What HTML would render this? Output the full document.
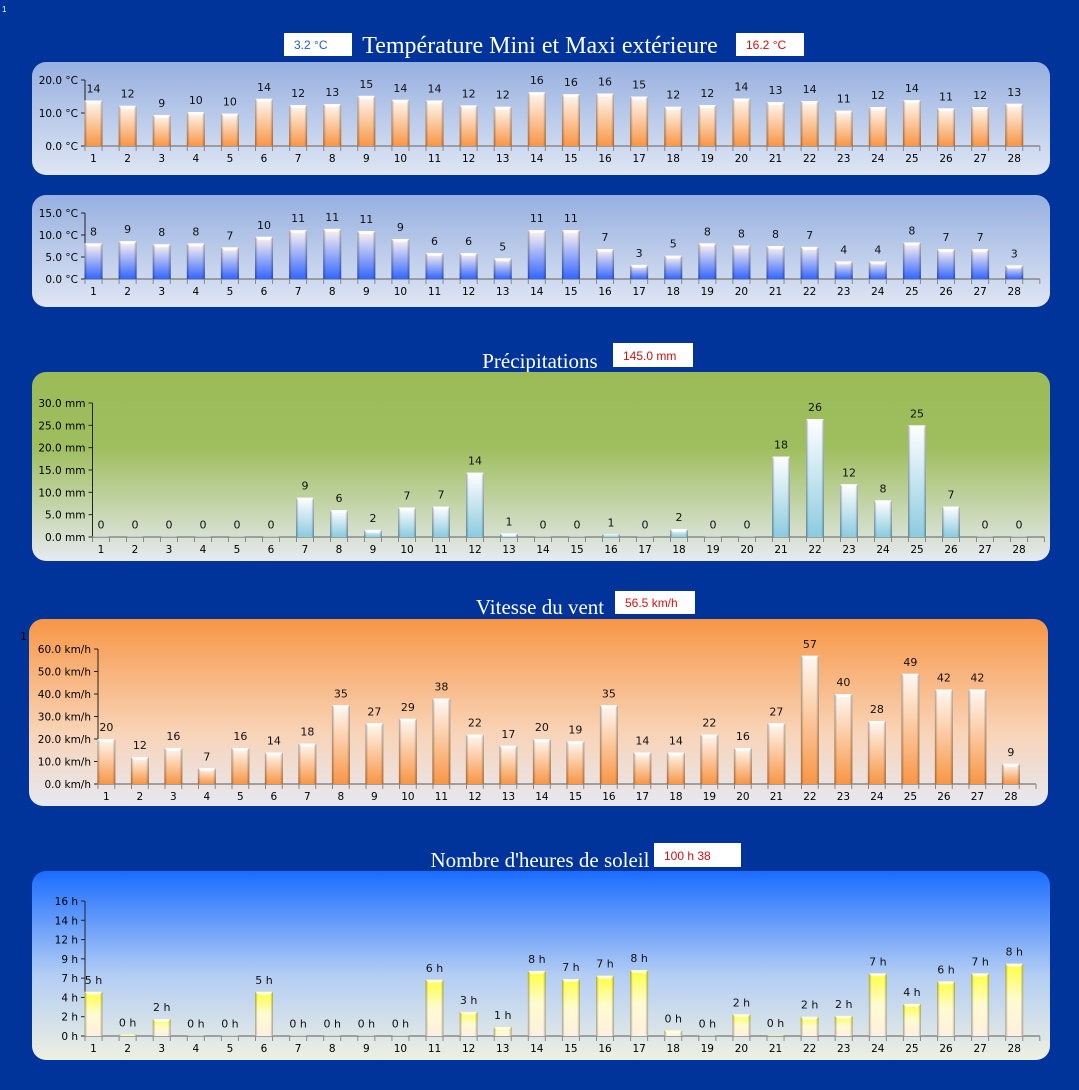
<!DOCTYPE html>
<html><head><meta charset="utf-8">
<style>
html,body{margin:0;padding:0;background:#00349a;}
svg{display:block;}
.t{font-family:"Liberation Serif",serif;font-size:21px;fill:#fff;}
.ax{font-family:"DejaVu Sans","Liberation Sans",sans-serif;font-size:10.5px;fill:#000;}
.vl{font-family:"DejaVu Sans","Liberation Sans",sans-serif;font-size:11px;fill:#111;}
.bx{font-family:"Liberation Sans",sans-serif;font-size:12px;}
</style></head>
<body>
<svg id="s" width="1079" height="1090" viewBox="0 0 1079 1090" xmlns="http://www.w3.org/2000/svg">
<defs>
<linearGradient id="pTemp" x1="0" y1="0" x2="0" y2="1"><stop offset="0" stop-color="#97b0e0"/><stop offset="1" stop-color="#dfe6f4"/></linearGradient>
<linearGradient id="pRain" x1="0" y1="0" x2="0" y2="1"><stop offset="0" stop-color="#9bbb59"/><stop offset="0.4" stop-color="#9fbe5e"/><stop offset="1" stop-color="#e6eaf1"/></linearGradient>
<linearGradient id="pWind" x1="0" y1="0" x2="0" y2="1"><stop offset="0" stop-color="#f79646"/><stop offset="0.6" stop-color="#f9d3b6"/><stop offset="1" stop-color="#e6e8f2"/></linearGradient>
<linearGradient id="pSun" x1="0" y1="0" x2="0" y2="1"><stop offset="0" stop-color="#1a6cff"/><stop offset="0.55" stop-color="#b3cdf4"/><stop offset="1" stop-color="#eef0e2"/></linearGradient>
<linearGradient id="bOrange" x1="0" y1="0" x2="0" y2="1"><stop offset="0" stop-color="#fff8f2"/><stop offset="1" stop-color="#f79646"/></linearGradient>
<linearGradient id="bBlue" x1="0" y1="0" x2="0" y2="1"><stop offset="0" stop-color="#fff4f0"/><stop offset="1" stop-color="#3366ff"/></linearGradient>
<linearGradient id="bCyan" x1="0" y1="0" x2="0" y2="1"><stop offset="0" stop-color="#ffffff"/><stop offset="1" stop-color="#8ccbe0"/></linearGradient>
<linearGradient id="bYellow" x1="0" y1="0" x2="0" y2="1"><stop offset="0" stop-color="#ffff40"/><stop offset="0.5" stop-color="#fffbd0"/><stop offset="1" stop-color="#fff0e0"/></linearGradient>
<linearGradient id="side" x1="0" y1="0" x2="1" y2="0"><stop offset="0" stop-color="#000" stop-opacity="0.35"/><stop offset="0.15" stop-color="#000" stop-opacity="0"/><stop offset="0.85" stop-color="#000" stop-opacity="0"/><stop offset="1" stop-color="#000" stop-opacity="0.35"/></linearGradient>
</defs>
<text x="2" y="12" font-size="8" fill="#fff" font-family="Liberation Sans">1</text>

<text class="t" x="540" y="53" text-anchor="middle" style="font-size:24px">Température Mini et Maxi extérieure</text>
<rect x="284" y="33" width="68" height="23" fill="#fff"/>
<text class="bx" x="294" y="49" fill="#1f5fd0">3.2 °C</text>
<rect x="736" y="33" width="68" height="23" fill="#fff"/>
<text class="bx" x="746" y="49" fill="#d01010">16.2 °C</text>
<rect x="32" y="62" width="1018" height="113" rx="14" fill="url(#pTemp)"/>
<rect x="32" y="195" width="1018" height="112" rx="14" fill="url(#pTemp)"/>

<text class="t" x="540" y="368" text-anchor="middle">Précipitations</text>
<rect x="613" y="343" width="80" height="24" fill="#fff"/>
<text class="bx" x="623" y="360" fill="#d01010">145.0 mm</text>
<rect x="32" y="372" width="1018" height="189" rx="14" fill="url(#pRain)"/>

<text class="t" x="540" y="614" text-anchor="middle">Vitesse du vent</text>
<rect x="615" y="591" width="80" height="23" fill="#fff"/>
<text class="bx" x="625" y="607" fill="#d01010">56.5 km/h</text>
<rect x="29" y="619" width="1019" height="187" rx="14" fill="url(#pWind)"/>
<text x="20" y="640" font-size="11" fill="#000" font-family="DejaVu Sans">1</text>

<text class="t" x="540" y="867" text-anchor="middle">Nombre d'heures de soleil</text>
<rect x="654" y="843" width="87" height="24" fill="#fff"/>
<text class="bx" x="664" y="860" fill="#d01010">100 h 38</text>
<rect x="32" y="871" width="1018" height="189" rx="14" fill="url(#pSun)"/>
<g id="charts"></g>
</svg>
<script>
const days = [1,2,3,4,5,6,7,8,9,10,11,12,13,14,15,16,17,18,19,20,21,22,23,24,25,26,27,28];
const maxTemp = [13.8,12.2,9.4,10.3,9.8,14.3,12.4,12.7,15.2,14,13.8,12.3,11.9,16.3,15.7,15.9,15,11.9,12.4,14.4,13.3,13.6,10.7,11.8,13.9,11.4,11.8,12.8];
const maxTicks = [0,10,20];
const maxTickLabels = ["0.0 °C","10.0 °C","20.0 °C"];
const minTemp = [8.1,8.6,7.9,8.1,7.2,9.6,11.1,11.4,10.9,9.1,5.9,5.9,4.7,11.1,11.1,6.8,3.2,5.3,8.1,7.6,7.5,7.3,4,4,8.3,6.8,6.8,3.1];
const minTicks = [0,5,10,15];
const minTickLabels = ["0.0 °C","5.0 °C","10.0 °C","15.0 °C"];
const rain = [0,0,0,0,0,0,8.8,6,1.6,6.6,6.8,14.4,0.8,0,0,0.6,0,1.8,0,0,18,26.4,11.8,8.2,25,6.8,0,0];
const rainTicks = [0,5,10,15,20,25,30];
const rainTickLabels = ["0.0 mm","5.0 mm","10.0 mm","15.0 mm","20.0 mm","25.0 mm","30.0 mm"];
const wind = [20,12,16,7,16,14,18,35,27,29,38,22,17,20,19,35,14,14,22,16,27,57,40,28,49,42,42,9];
const windTicks = [0,10,20,30,40,50,60];
const windTickLabels = ["0.0 km/h","10.0 km/h","20.0 km/h","30.0 km/h","40.0 km/h","50.0 km/h","60.0 km/h"];
const sun = [5.5,0.2,2.1,0,0,5.5,0,0,0,0,7.0,3.0,1.1,8.1,7.1,7.5,8.2,0.7,0,2.7,0.1,2.4,2.5,7.8,4.0,6.8,7.8,9.0];
const sunLabels = ["5 h","0 h","2 h","0 h","0 h","5 h","0 h","0 h","0 h","0 h","6 h","3 h","1 h","8 h","7 h","7 h","8 h","0 h","0 h","2 h","0 h","2 h","2 h","7 h","4 h","6 h","7 h","8 h"];
const sunTicks = [0,2.4,4.8,7.2,9.6,12,14.4,16.8];
const sunTickLabels = ["0 h","2 h","4 h","7 h","9 h","12 h","14 h","16 h"];

const NS="http://www.w3.org/2000/svg";
const root=document.getElementById('charts');
function mk(tag,attrs,parent){const e=document.createElementNS(NS,tag);for(const k in attrs)e.setAttribute(k,attrs[k]);(parent||root).appendChild(e);return e;}

function chart(name,c,vals,labels,ticks,tickLabels){
  const g=mk('g',{});
  
  
  const n=vals.length;
  const yS=v=>c.y0-(v/c.max)*(c.y0-c.yT);
  const xS=i=>c.x0+i*c.step+c.step/4;
  const xEnd=c.x0+n*c.step;
  const ya=mk('line',{x1:c.x0,y1:yS(c.max),x2:c.x0,y2:c.y0,stroke:'#222','stroke-width':1},g);
  
  
  ticks.forEach((t,k)=>{
    mk('line',{x1:c.x0-4,x2:c.x0,y1:yS(t),y2:yS(t),stroke:'#222'},g);
    const tx=mk('text',{x:c.x0-7,y:yS(t)+4,'text-anchor':'end',class:'ax'},g);
    tx.textContent=tickLabels[k];
    
    
  });
  const xa=mk('line',{x1:c.x0,y1:c.y0,x2:xEnd,y2:c.y0,stroke:'#888','stroke-width':1.5},g);
  
  
  for(let k=0;k<=2*n;k++){const x=c.x0+k*c.step/2;mk('line',{x1:x,x2:x,y1:c.y0,y2:c.y0+5,stroke:'#888'},g);}
  vals.forEach((v,i)=>{
    const cx=xS(i), top=yS(v), h=Math.max(c.y0-top,0.5);
    const r=mk('rect',{x:cx-c.bw/2,y:c.y0-h,width:c.bw,height:h,fill:'url(#'+c.fill+')'},g);
    
    
    mk('rect',{x:cx-c.bw/2,y:c.y0-h,width:c.bw,height:h,fill:'url(#side)'},g);
    if(h>3) mk('path',{d:`M${cx-c.bw/2} ${c.y0-h}h${c.bw}l-3 3h${-(c.bw-6)}z`,fill:'#fff','fill-opacity':0.8},g);
    const lb=mk('text',{x:cx,y:c.y0-h-8,'text-anchor':'middle',class:'vl'},g);
    lb.textContent=labels?labels[i]:String(Math.round(v));
    
    
    const cl=mk('text',{x:cx,y:c.y0+16,'text-anchor':'middle',class:'ax'},g);
    cl.textContent=days[i];
    
    
  });
}
chart('max-temp',{x0:85,step:34.1,y0:146,yT:80,max:20,bw:18,fill:'bOrange'},maxTemp,null,maxTicks,maxTickLabels);
chart('min-temp',{x0:85,step:34.1,y0:279,yT:213,max:15,bw:18,fill:'bBlue'},minTemp,null,minTicks,minTickLabels);
chart('rain',{x0:92.5,step:34,y0:537,yT:403,max:30,bw:18,fill:'bCyan'},rain,null,rainTicks,rainTickLabels);
chart('wind',{x0:98,step:33.5,y0:784,yT:649,max:60,bw:18,fill:'bOrange'},wind,null,windTicks,windTickLabels);
chart('sun',{x0:85,step:34.1,y0:1036,yT:901,max:16.8,bw:18,fill:'bYellow'},sun,sunLabels,sunTicks,sunTickLabels);
</script>
</body></html>
